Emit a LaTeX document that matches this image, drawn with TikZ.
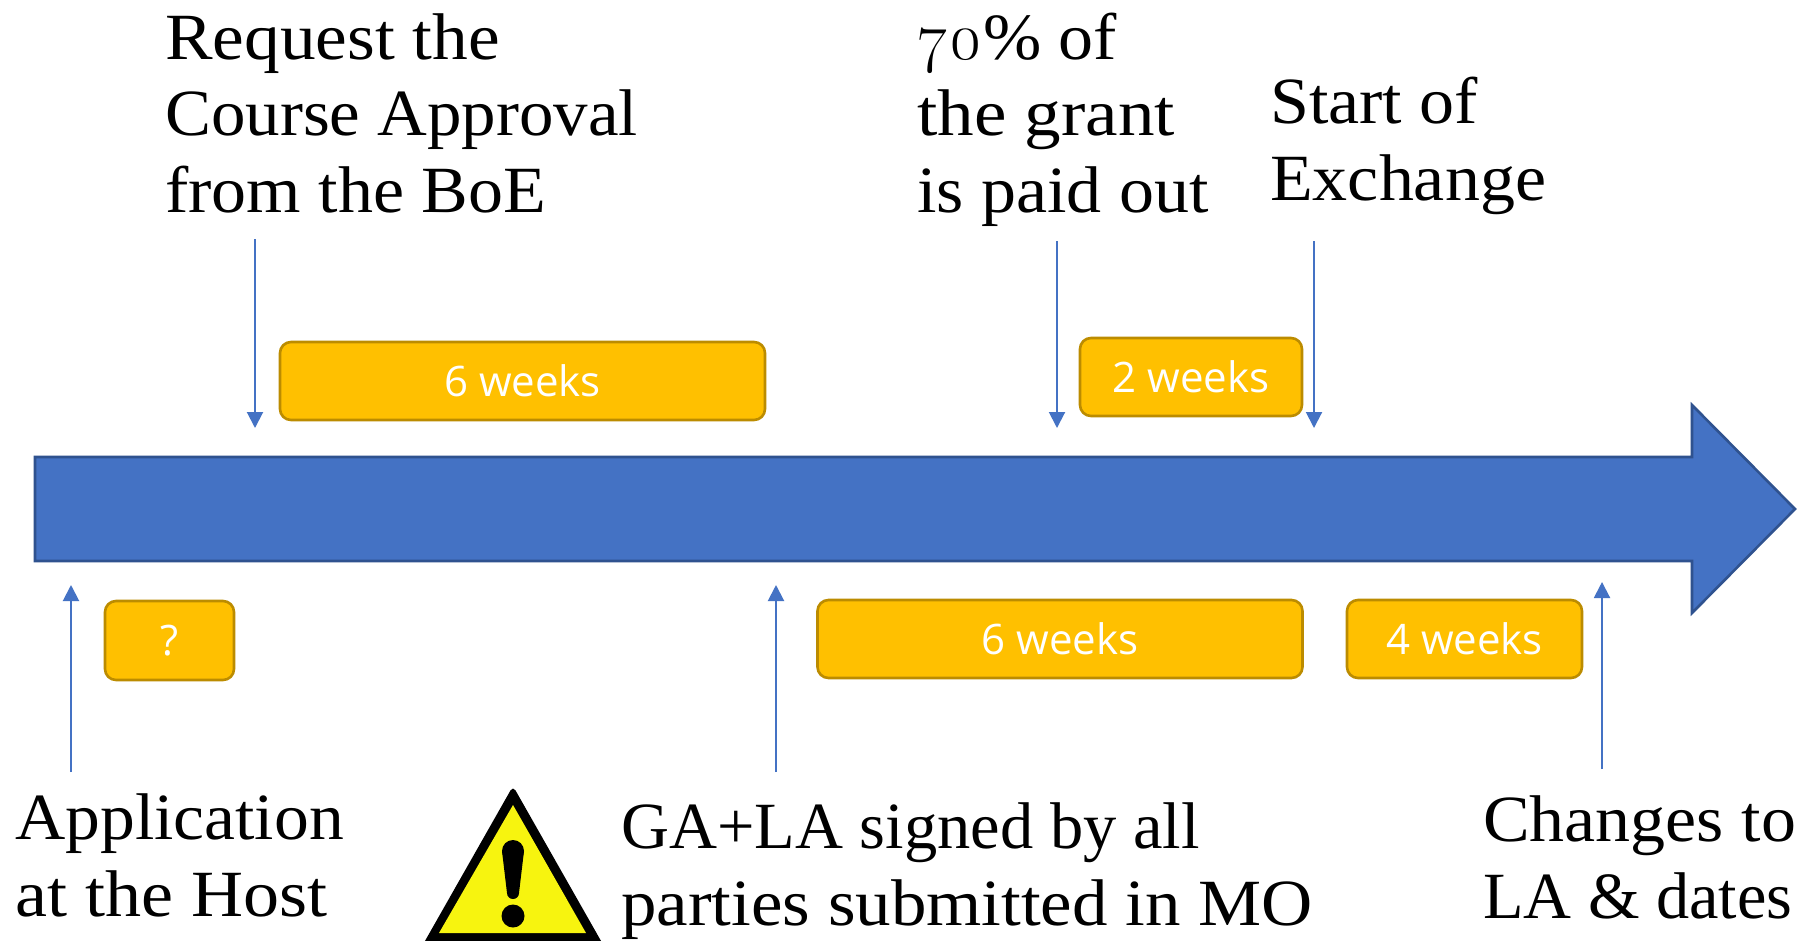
\documentclass[tikz,border=0pt]{standalone}
\usepackage{fontspec}
\usetikzlibrary{arrows.meta}
\setmainfont{Liberation Serif}[FakeStretch=1.06]
\newfontfamily\boxfont{Open Sans}
\newfontfamily\oldnum{Latin Modern Roman}[Numbers=OldStyle]
\newcommand{\wsc}[2]{\scalebox{#1}[1]{#2}}
\definecolor{bluefill}{HTML}{4472C4}
\definecolor{blueedge}{HTML}{2F528F}
\definecolor{amberfill}{HTML}{FFC000}
\definecolor{amberedge}{HTML}{BC8C00}
\definecolor{signyellow}{HTML}{F7F40F}
\tikzset{
  x=1pt,y=-1pt,
  lbl/.style={anchor=base west,inner sep=0pt,align=left,font=\fontsize{66}{76.5}\selectfont,text=black},
  pill/.style={draw=amberedge,fill=amberfill,line width=2.6pt,rounded corners=11pt,text=white,
    font=\boxfont\fontsize{42}{50}\selectfont,inner sep=0pt,anchor=center},
  marker/.style={draw=bluefill,line width=2pt,-{Triangle[length=16pt,width=16pt]}},
}
\begin{document}
\begin{tikzpicture}
\useasboundingbox (0,0) rectangle (1812,940);
\fill[white] (0,0) rectangle (1812,940);
% timeline arrow
\draw[fill=bluefill,draw=blueedge,line width=2.6pt,line join=miter]
  (35,457) -- (1692,457) -- (1692,405) -- (1795,509) -- (1692,613) -- (1692,561) -- (35,561) -- cycle;
% boxes
\node[pill,minimum width=485pt,minimum height=78pt] (b1) at (522.5,381) {6 weeks};
\node[pill,minimum width=222pt,minimum height=78pt] (b2) at (1191,377) {2 weeks};
\node[pill,minimum width=129pt,minimum height=79pt] (b3) at (169.5,640.5) {?};
\node[pill,minimum width=485pt,minimum height=78pt] (b4) at (1060,639) {6 weeks};
\node[pill,minimum width=235pt,minimum height=78pt] (b5) at (1464.5,639) {4 weeks};
% labels (the anchor is the baseline of the last line)
\node[lbl] (t1) at (165,212) {\wsc{1.02}{Request the}\\\wsc{0.985}{Course Approval}\\from the BoE};
\node[lbl] (t2) at (917,212) {{\oldnum 70}\% of\\\wsc{1.045}{the grant}\\is paid out};
\node[lbl] (t3) at (1270,200) {Start of\\Exchange};
\node[lbl] (t4) at (15,916) {\wsc{0.995}{Application}\\\wsc{1.03}{at the Host}};
\node[lbl] (t5) at (621,925) {\wsc{0.95}{GA+LA signed by all}\\\wsc{1.014}{parties submitted in MO}};
\node[lbl] (t6) at (1483,918) {Changes to\\\wsc{0.948}{LA \& dates}};
% connector ends
\coordinate (a1s) at (255,239); \coordinate (a1e) at (255,428);
\coordinate (a2s) at (1057,241); \coordinate (a2e) at (1057,428);
\coordinate (a3s) at (1314,241); \coordinate (a3e) at (1314,428);
\coordinate (a4s) at (71,772); \coordinate (a4e) at (71,585);
\coordinate (a5s) at (776,772); \coordinate (a5e) at (776,585);
\coordinate (a6s) at (1602,769); \coordinate (a6e) at (1602,582);
\draw[marker] (a1s) -- (a1e);
\draw[marker] (a2s) -- (a2e);
\draw[marker] (a3s) -- (a3e);
\draw[marker] (a4s) -- (a4e);
\draw[marker] (a5s) -- (a5e);
\draw[marker] (a6s) -- (a6e);
% warning sign
\begin{scope}
\clip (400,780) rectangle (620,940);
\fill[black,rounded corners=5pt] (513,786) -- (609,955) -- (417,955) -- cycle;
\fill[signyellow] (513,805) -- (586,933) -- (439,933) -- cycle;
\end{scope}
\fill[black] (513,851) circle[radius=11];
\fill[black] (513,893) circle[radius=6];
\fill[black] (502,851) -- (524,851) -- (519,893) -- (507,893) -- cycle;
\fill[black] (513,916) circle[radius=11.5];
\end{tikzpicture}
\end{document}
